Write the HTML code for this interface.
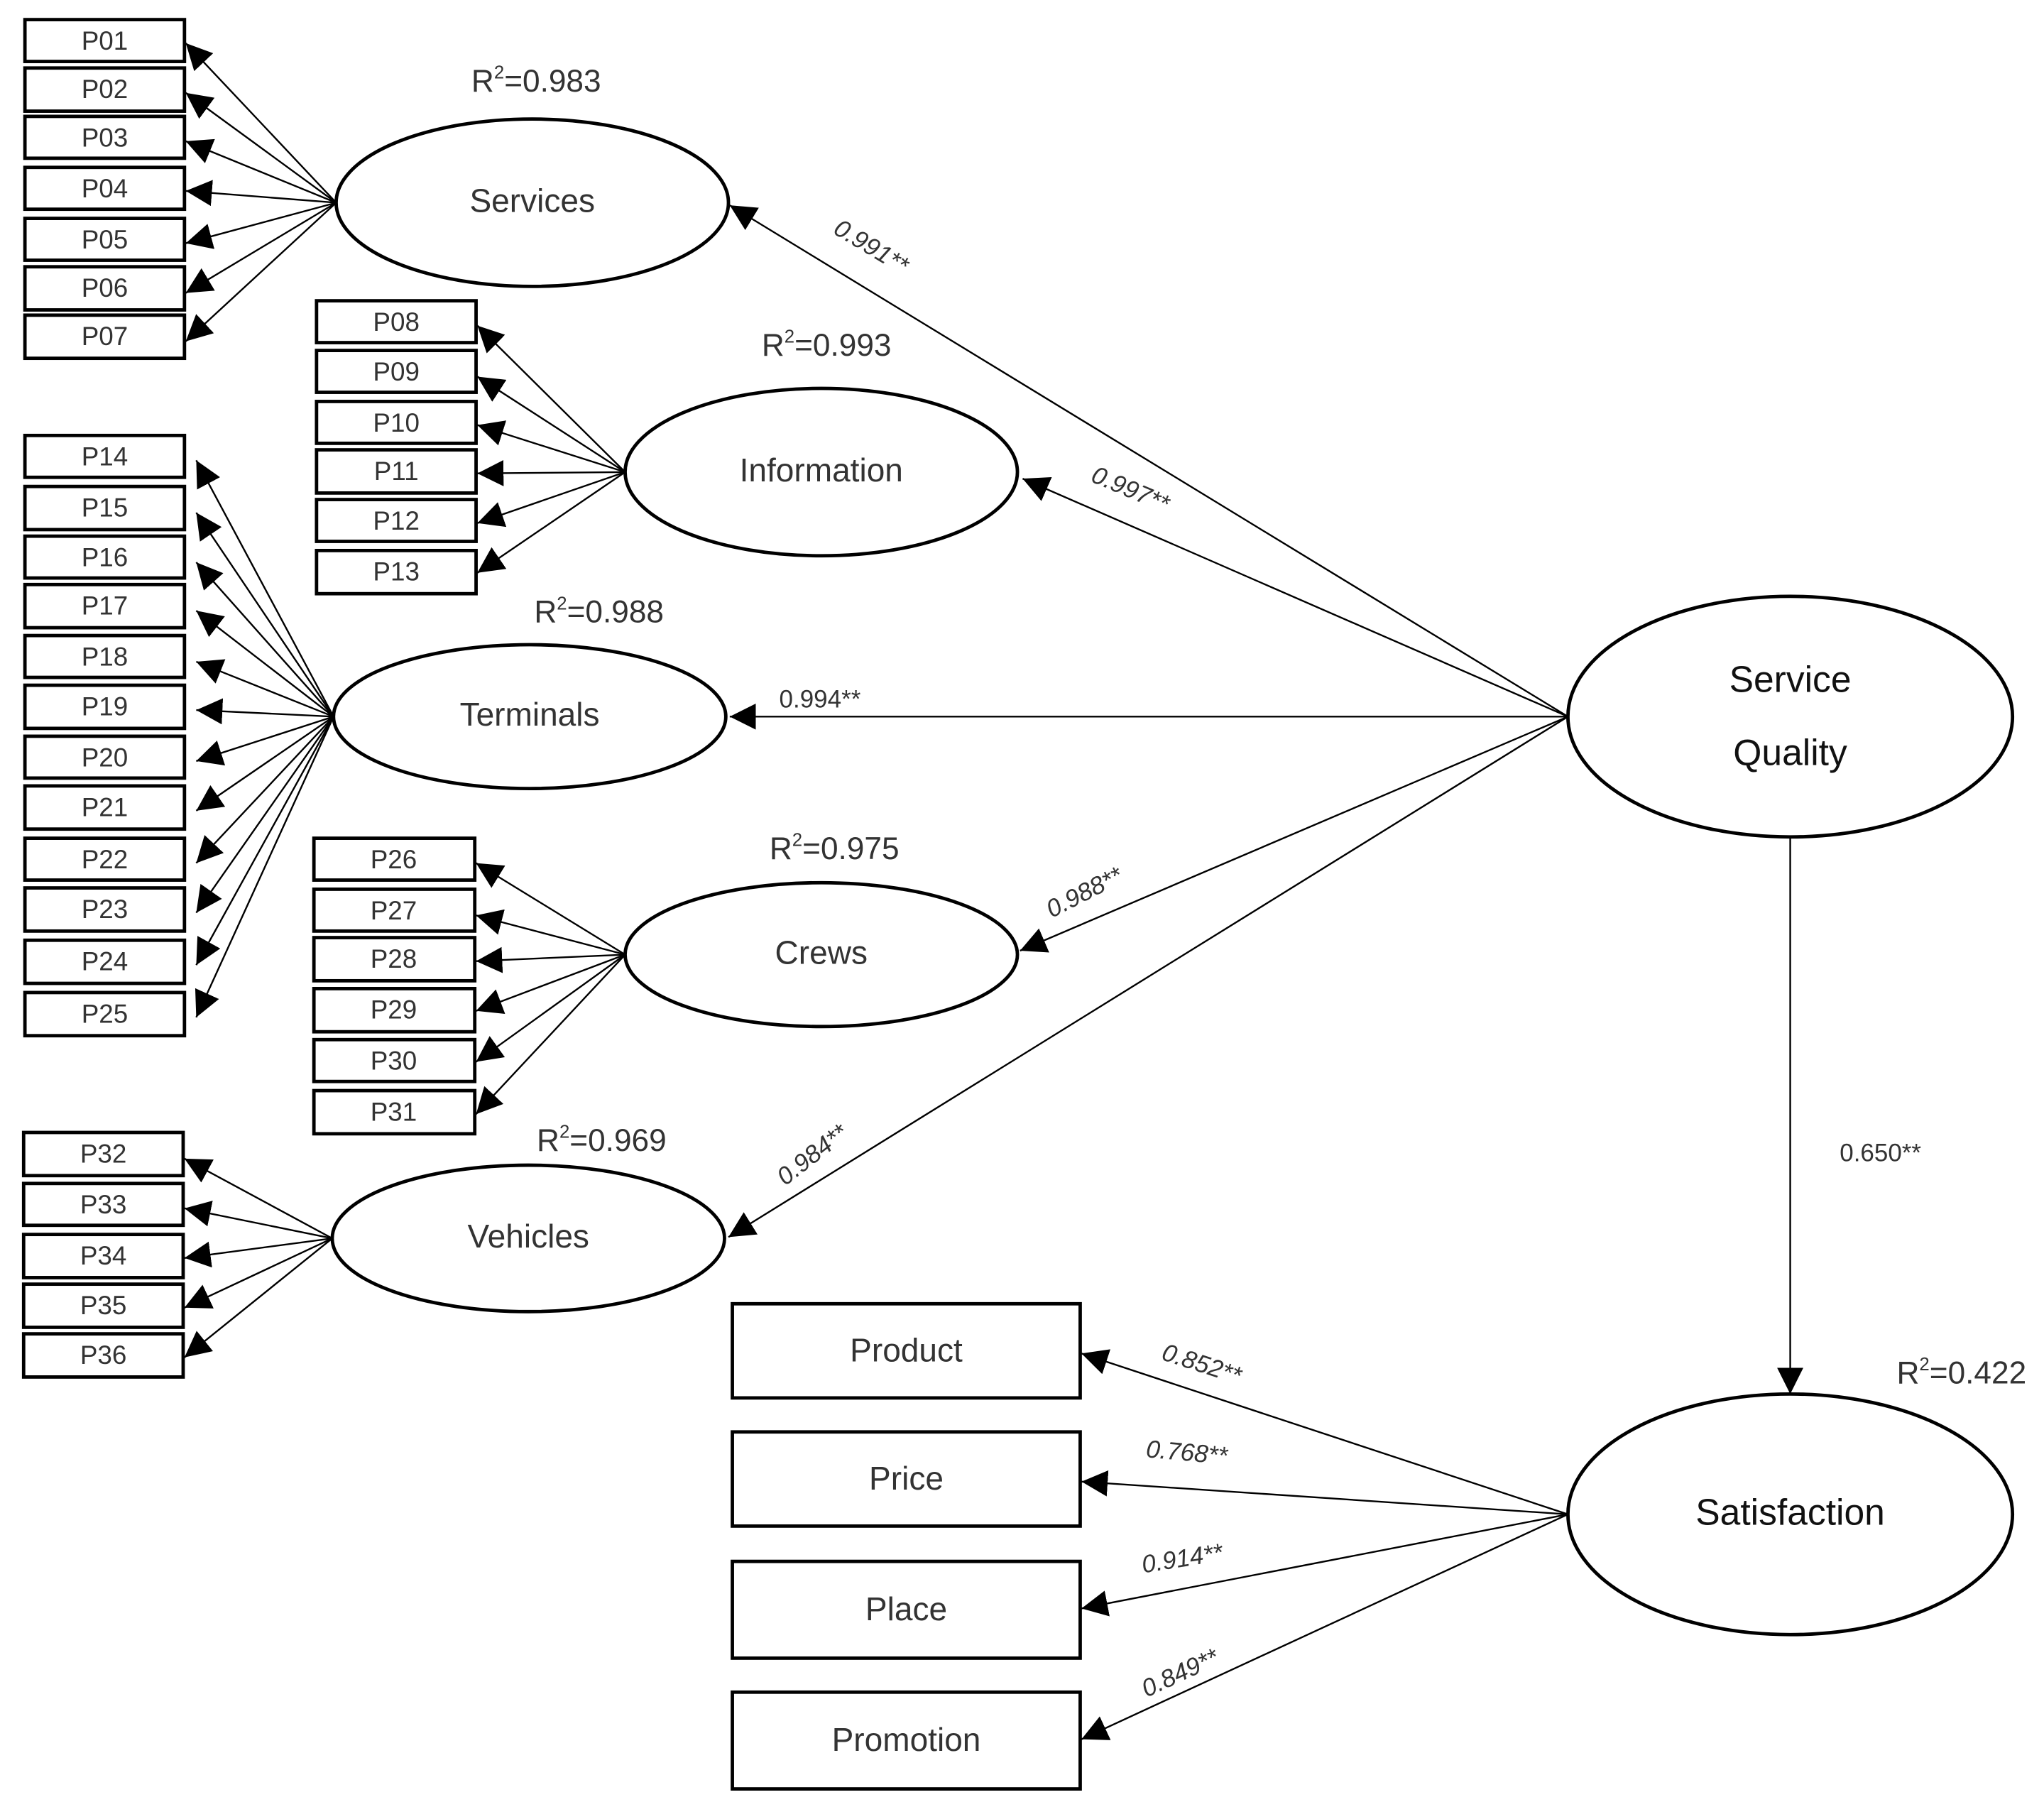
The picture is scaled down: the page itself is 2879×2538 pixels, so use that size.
<!DOCTYPE html>
<html><head><meta charset="utf-8"><style>html,body{margin:0;padding:0;background:#fff}svg{display:block}</style></head><body>
<svg width="2879" height="2538" viewBox="0 0 1563 1378" xmlns="http://www.w3.org/2000/svg" font-family="Liberation Sans, sans-serif">
<defs><marker id="a" viewBox="0 0 10 10" refX="10" refY="5" markerWidth="20" markerHeight="20" markerUnits="userSpaceOnUse" orient="auto"><path d="M0,0L10,5L0,10z" fill="#000"/></marker></defs>
<g fill="#fff" stroke="#000" stroke-width="2.6">
<rect x="19" y="15" width="122" height="32"/><rect x="19" y="52" width="122" height="33"/><rect x="19" y="89" width="122" height="32"/><rect x="19" y="128" width="122" height="32"/><rect x="19" y="167" width="122" height="32"/><rect x="19" y="204" width="122" height="33"/><rect x="19" y="241" width="122" height="33"/>
<rect x="242" y="230" width="122" height="32"/><rect x="242" y="268" width="122" height="32"/><rect x="242" y="307" width="122" height="32"/><rect x="242" y="344" width="122" height="33"/><rect x="242" y="382" width="122" height="32"/><rect x="242" y="421" width="122" height="33"/>
<rect x="19" y="333" width="122" height="32"/><rect x="19" y="372" width="122" height="33"/><rect x="19" y="410" width="122" height="32"/><rect x="19" y="447" width="122" height="33"/><rect x="19" y="486" width="122" height="32"/><rect x="19" y="524" width="122" height="33"/><rect x="19" y="563" width="122" height="32"/><rect x="19" y="601" width="122" height="33"/><rect x="19" y="641" width="122" height="32"/><rect x="19" y="679" width="122" height="33"/><rect x="19" y="719" width="122" height="33"/><rect x="19" y="759" width="122" height="33"/>
<rect x="240" y="641" width="123" height="32"/><rect x="240" y="680" width="123" height="32"/><rect x="240" y="717" width="123" height="33"/><rect x="240" y="756" width="123" height="33"/><rect x="240" y="795" width="123" height="32"/><rect x="240" y="834" width="123" height="33"/>
<rect x="18" y="866" width="122" height="33"/><rect x="18" y="905" width="122" height="32"/><rect x="18" y="944" width="122" height="33"/><rect x="18" y="982" width="122" height="33"/><rect x="18" y="1020" width="122" height="33"/>
<rect x="560" y="997" width="266" height="72"/><rect x="560" y="1095" width="266" height="72"/><rect x="560" y="1194" width="266" height="74"/><rect x="560" y="1294" width="266" height="74"/>
<ellipse cx="407" cy="155" rx="150" ry="64"/><ellipse cx="628" cy="361" rx="150" ry="64"/><ellipse cx="405" cy="548" rx="150" ry="55"/><ellipse cx="628" cy="730" rx="150" ry="55"/><ellipse cx="404" cy="947" rx="150" ry="56"/>
<ellipse cx="1369" cy="548" rx="170" ry="92"/><ellipse cx="1369" cy="1158" rx="170" ry="92"/>
</g>
<g stroke="#000" stroke-width="1.3" marker-end="url(#a)">
<line x1="257" y1="155" x2="142" y2="33"/><line x1="257" y1="155" x2="142" y2="71"/><line x1="257" y1="155" x2="142" y2="108"/><line x1="257" y1="155" x2="142" y2="146"/><line x1="257" y1="155" x2="142" y2="186"/><line x1="257" y1="155" x2="142" y2="224"/><line x1="257" y1="155" x2="142" y2="261"/>
<line x1="478" y1="361" x2="365" y2="249"/><line x1="478" y1="361" x2="365" y2="288"/><line x1="478" y1="361" x2="365" y2="325"/><line x1="478" y1="361" x2="365" y2="362"/><line x1="478" y1="361" x2="365" y2="400"/><line x1="478" y1="361" x2="365" y2="438"/>
<line x1="255" y1="548" x2="150" y2="352"/><line x1="255" y1="548" x2="150" y2="392"/><line x1="255" y1="548" x2="150" y2="430"/><line x1="255" y1="548" x2="150" y2="467"/><line x1="255" y1="548" x2="150" y2="506"/><line x1="255" y1="548" x2="150" y2="543"/><line x1="255" y1="548" x2="150" y2="582"/><line x1="255" y1="548" x2="150" y2="620"/><line x1="255" y1="548" x2="150" y2="660"/><line x1="255" y1="548" x2="150" y2="698"/><line x1="255" y1="548" x2="150" y2="738"/><line x1="255" y1="548" x2="150" y2="778"/>
<line x1="478" y1="730" x2="364" y2="660"/><line x1="478" y1="730" x2="364" y2="700"/><line x1="478" y1="730" x2="364" y2="735"/><line x1="478" y1="730" x2="364" y2="773"/><line x1="478" y1="730" x2="364" y2="812"/><line x1="478" y1="730" x2="364" y2="852"/>
<line x1="254" y1="947" x2="141" y2="886"/><line x1="254" y1="947" x2="141" y2="924"/><line x1="254" y1="947" x2="141" y2="962"/><line x1="254" y1="947" x2="141" y2="1000"/><line x1="254" y1="947" x2="141" y2="1038"/>
<line x1="1199" y1="548" x2="558" y2="157"/><line x1="1199" y1="548" x2="782" y2="366"/><line x1="1199" y1="548" x2="558" y2="548"/><line x1="1199" y1="548" x2="780" y2="727"/><line x1="1199" y1="548" x2="557" y2="946"/>
<line x1="1369" y1="640" x2="1369" y2="1066"/>
<line x1="1199" y1="1158" x2="827" y2="1035"/><line x1="1199" y1="1158" x2="827" y2="1133"/><line x1="1199" y1="1158" x2="827" y2="1230"/><line x1="1199" y1="1158" x2="827" y2="1330"/>
</g>
<g font-size="20" fill="#333" text-anchor="middle">
<text x="80" y="38">P01</text><text x="80" y="75">P02</text><text x="80" y="112">P03</text><text x="80" y="151">P04</text><text x="80" y="190">P05</text><text x="80" y="227">P06</text><text x="80" y="264">P07</text>
<text x="303" y="253">P08</text><text x="303" y="291">P09</text><text x="303" y="330">P10</text><text x="303" y="367">P11</text><text x="303" y="405">P12</text><text x="303" y="444">P13</text>
<text x="80" y="356">P14</text><text x="80" y="395">P15</text><text x="80" y="433">P16</text><text x="80" y="470">P17</text><text x="80" y="509">P18</text><text x="80" y="547">P19</text><text x="80" y="586">P20</text><text x="80" y="624">P21</text><text x="80" y="664">P22</text><text x="80" y="702">P23</text><text x="80" y="742">P24</text><text x="80" y="782">P25</text>
<text x="301" y="664">P26</text><text x="301" y="703">P27</text><text x="301" y="740">P28</text><text x="301" y="779">P29</text><text x="301" y="818">P30</text><text x="301" y="857">P31</text>
<text x="79" y="889">P32</text><text x="79" y="928">P33</text><text x="79" y="967">P34</text><text x="79" y="1005">P35</text><text x="79" y="1043">P36</text>
</g>
<g font-size="25" fill="#333" text-anchor="middle">
<text x="407" y="162">Services</text><text x="628" y="368">Information</text><text x="405" y="555">Terminals</text><text x="628" y="737">Crews</text><text x="404" y="954">Vehicles</text>
<text x="693" y="1041">Product</text><text x="693" y="1139">Price</text><text x="693" y="1239">Place</text><text x="693" y="1339">Promotion</text>
</g>
<g font-size="28" fill="#111" text-anchor="middle">
<text x="1369" y="529">Service</text><text x="1369" y="585">Quality</text><text x="1369" y="1166">Satisfaction</text>
</g>
<g font-size="24" fill="#333" text-anchor="middle">
<text x="410" y="70">R<tspan font-size="14" dy="-10">2</tspan><tspan dy="10">=0.983</tspan></text>
<text x="632" y="272">R<tspan font-size="14" dy="-10">2</tspan><tspan dy="10">=0.993</tspan></text>
<text x="458" y="476">R<tspan font-size="14" dy="-10">2</tspan><tspan dy="10">=0.988</tspan></text>
<text x="638" y="657">R<tspan font-size="14" dy="-10">2</tspan><tspan dy="10">=0.975</tspan></text>
<text x="460" y="880">R<tspan font-size="14" dy="-10">2</tspan><tspan dy="10">=0.969</tspan></text>
<text x="1500" y="1058">R<tspan font-size="14" dy="-10">2</tspan><tspan dy="10">=0.422</tspan></text>
</g>
<g font-size="19" fill="#333" font-style="italic" text-anchor="middle">
<text transform="translate(663,194) rotate(31)">0.991**</text>
<text transform="translate(862,380) rotate(23)">0.997**</text>
<text font-style="normal" x="627" y="541">0.994**</text>
<text transform="translate(832,688) rotate(-27)">0.988**</text>
<text transform="translate(625,888) rotate(-38)">0.984**</text>
<text font-style="normal" x="1438" y="888">0.650**</text>
<text transform="translate(917,1049) rotate(18)">0.852**</text>
<text transform="translate(907,1117) rotate(5)">0.768**</text>
<text transform="translate(905,1198) rotate(-9)">0.914**</text>
<text transform="translate(905,1285) rotate(-25)">0.849**</text>
</g>
</svg>
</body></html>
